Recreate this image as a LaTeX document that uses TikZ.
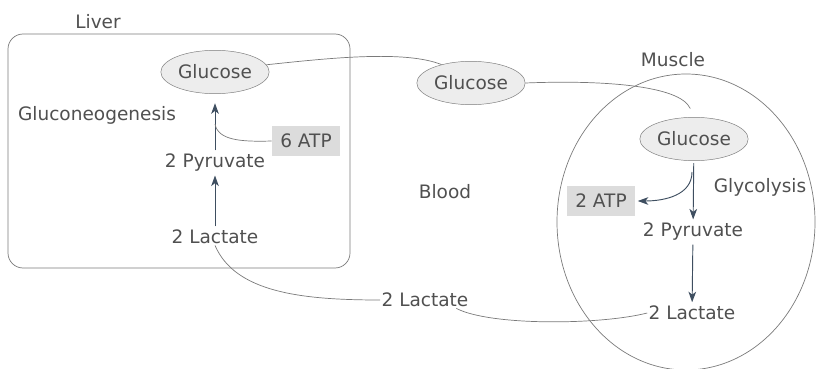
\documentclass[tikz,border=0pt]{standalone}
\usepackage{fontspec}
\setmainfont{DejaVu Sans}
\usepackage{tikz}
\usetikzlibrary{shapes.geometric,arrows.meta}

\definecolor{txtgray}{HTML}{505050}
\definecolor{linegray}{HTML}{7A7A7A}
\definecolor{arrowblue}{HTML}{3E4E60}
\definecolor{fillgray}{HTML}{EDEDED}
\definecolor{boxgray}{HTML}{DCDCDC}

\tikzset{
    lbl/.style={text=txtgray, inner sep=1pt},
    glu/.style={ellipse, draw=linegray, fill=fillgray, text=txtgray,
        minimum width=3.25cm, minimum height=1.3cm, inner sep=0pt},
    atpbox/.style={fill=boxgray, text=txtgray, minimum width=2.05cm,
        minimum height=0.9cm, inner sep=0pt},
    wire/.style={draw=linegray, line width=0.6pt},
    flow/.style={draw=arrowblue, line width=0.8pt, -{Stealth[length=9pt, width=6.5pt, inset=2.5pt]},
        shorten >=2pt, shorten <=2pt}
}

\begin{document}
\begin{tikzpicture}[
            x=0.03cm,   % 1px
            y=-0.03cm,  % 上から下へ
            font=\fontsize{15.8pt}{18pt}\selectfont
        ]
            \useasboundingbox (0,0) rectangle (818,369);

            % 枠
            \draw[linegray, line width=0.6pt, rounded corners=0.45cm] (8,34) rectangle (350,268);
            \draw[linegray, line width=0.6pt] (686,222) ellipse [x radius=129, y radius=148];

            % ラベル
            \node[lbl] (liver) at (98,22) {Liver};
            \node[lbl] (muscle) at (673,60) {Muscle};
            \node[lbl] (gng) at (97,115) {Gluconeogenesis};
            \node[lbl] (blood) at (445,192) {Blood};
            \node[lbl] (glycol) at (760,187) {Glycolysis};

            % 肝臓
            \node[glu] (lglu) at (215,72) {Glucose};
            \node[lbl] (lpyr) at (215,163) {2 Pyruvate};
            \node[lbl] (llac) at (215,237) {2 Lactate};
            \node[atpbox] (latp) at (306,141) {6 ATP};

            % 血液
            \node[glu] (bglu) at (471,83) {Glucose};
            \node[lbl] (blac) at (425,300) {2 Lactate};

            % 筋肉
            \node[glu] (mglu) at (694,139) {Glucose};
            \node[lbl] (mpyr) at (693,232) {2 Pyruvate};
            \node[lbl] (mlac) at (692,313) {2 Lactate};
            \node[atpbox] (matp) at (601,201) {2 ATP};

            % 矢印
            \draw[flow] (llac) -- (lpyr);
            \draw[flow, shorten >=8pt] (lpyr) -- (lglu);
            \coordinate (ljoin) at (215,124);
            \draw[wire] (latp.west) .. controls (240,142) and (218,140) .. (ljoin);
            \draw[flow] (mglu) -- (mpyr);
            \draw[flow] (mpyr) -- (mlac);
            \coordinate (mjoin) at (692,172);
            \draw[flow, shorten <=0pt] (mjoin) .. controls (692,195) and (665,201) .. (matp.east);

            % 輸送
            \draw[wire] (lglu.8) .. controls (330,58) and (405,50) .. (bglu.148);
            \draw[wire, shorten >=8pt] (bglu.east) .. controls (600,80) and (680,85) .. (mglu.north);
            \draw[wire] (llac.south) .. controls (235,292) and (300,300) .. (blac.west);
            \draw[wire] (blac.-15) .. controls (490,326) and (600,325) .. (mlac.west);
        \end{tikzpicture}
\end{document}
